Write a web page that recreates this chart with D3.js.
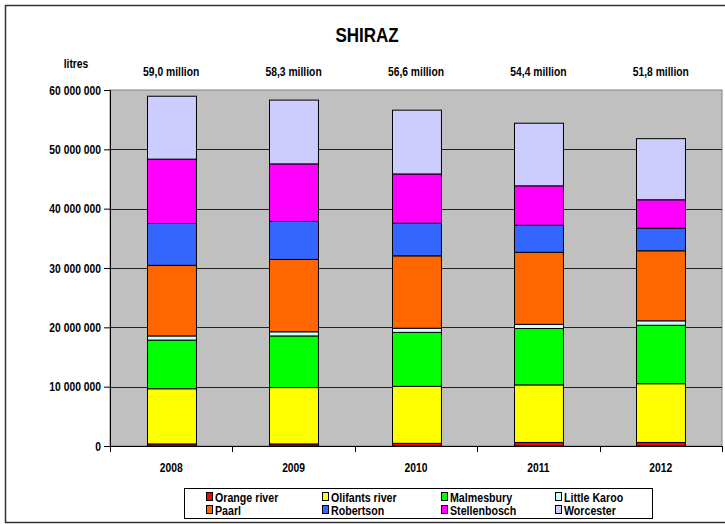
<!DOCTYPE html>
<html>
<head>
<meta charset="utf-8">
<script src="https://cdn.jsdelivr.net/npm/d3@7"></script>
<style>
  body { margin: 0; background: #fff; }
  text { font-family: "Liberation Sans", Arial, sans-serif; font-weight: bold; fill: black; }
</style>
</head>
<body>
<div id="wrapper"></div>
<script>
const years = ["2008", "2009", "2010", "2011", "2012"];
const regions = ["Orange river", "Olifants river", "Malmesbury", "Little Karoo",
                 "Paarl", "Robertson", "Stellenbosch", "Worcester"];
const region_colors = ["#FF0000", "#FFFF00", "#00FF00", "#CCFFFF",
                       "#FF6600", "#3366FF", "#FF00FF", "#CCCCFF"];
// litres, millions
const orange_river   = [0.35, 0.35, 0.45, 0.60, 0.60];
const olifants_river = [9.30, 9.50, 9.60, 9.70, 9.90];
const malmesbury     = [8.20, 8.70, 9.10, 9.50, 9.85];
const little_karoo   = [0.70, 0.70, 0.70, 0.70, 0.75];
const paarl          = [11.90, 12.20, 12.20, 12.15, 11.80];
const robertson      = [7.05, 6.40, 5.50, 4.55, 3.80];
const stellenbosch   = [10.85, 9.70, 8.30, 6.65, 4.80];
const worcester      = [10.60, 10.75, 10.75, 10.55, 10.30];
const total_labels = ["59,0 million", "58,3 million", "56,6 million", "54,4 million", "51,8 million"];
const y_ticks = [0, 10e6, 20e6, 30e6, 40e6, 50e6, 60e6];

const series_values = [orange_river, olifants_river, malmesbury, little_karoo,
                       paarl, robertson, stellenbosch, worcester];

// the original uses a narrow font; squeeze the regular one instead
const squeeze = 0.86;
function narrow(sel, x, y, s = squeeze) {
    sel.attr("x", 0).attr("y", 0)
        .attr("transform", (d, i) => {
            const xx = typeof x === "function" ? x(d, i) : x;
            const yy = typeof y === "function" ? y(d, i) : y;
            return `translate(${xx},${yy}) scale(${s},1)`;
        });
    return sel;
}

function drawChart() {
    const dimensions = {
        width: 725,
        height: 524,
        margin: { top: 90, right: 3, bottom: 78, left: 110 }
    };
    dimensions.bounded_width = 612;
    dimensions.bounded_height = dimensions.height - dimensions.margin.top - dimensions.margin.bottom;

    const wrapper = d3.select("#wrapper")
        .append("svg")
        .attr("width", dimensions.width)
        .attr("height", dimensions.height);

    // outer chart border
    wrapper.append("rect")
        .attr("x", 5.5).attr("y", 5.5)
        .attr("width", 740).attr("height", 517)
        .attr("fill", "white")
        .attr("stroke", "#333").attr("stroke-width", 1.5);

    const bounds = wrapper.append("g")
        .attr("transform", `translate(${dimensions.margin.left},${dimensions.margin.top})`);

    // build table for stacking
    const table = years.map((y, i) => {
        const row = { year: y };
        regions.forEach((r, j) => row[r] = series_values[j][i] * 1e6);
        return row;
    });
    const stacked = d3.stack().keys(regions)(table);

    const x_scale = d3.scaleBand()
        .domain(years)
        .range([0, dimensions.bounded_width])
        .paddingInner(0.6)
        .paddingOuter(0.3);

    const y_scale = d3.scaleLinear()
        .domain([0, 60e6])
        .range([dimensions.bounded_height, 0]);

    const color_scale = d3.scaleOrdinal().domain(regions).range(region_colors);
    const x_mid = d => x_scale(d) + x_scale.bandwidth() / 2;

    // plot area
    bounds.append("rect")
        .attr("width", dimensions.bounded_width)
        .attr("height", dimensions.bounded_height)
        .attr("fill", "#C0C0C0")
        .attr("stroke", "#808080");

    // gridlines
    bounds.append("g")
        .selectAll("line")
        .data(y_ticks.filter(d => d > 0 && d < 60e6))
        .join("line")
        .attr("x1", 0).attr("x2", dimensions.bounded_width)
        .attr("y1", d => Math.round(y_scale(d)) + 0.5)
        .attr("y2", d => Math.round(y_scale(d)) + 0.5)
        .attr("stroke", "#222");

    // bars
    bounds.append("g")
        .selectAll("g")
        .data(stacked)
        .join("g")
        .attr("fill", d => color_scale(d.key))
        .selectAll("rect")
        .data(d => d)
        .join("rect")
        .attr("x", d => Math.round(x_scale(d.data.year)) + 0.5)
        .attr("y", d => y_scale(d[1]))
        .attr("width", x_scale.bandwidth())
        .attr("height", d => y_scale(d[0]) - y_scale(d[1]))
        .attr("stroke", "black")
        .attr("stroke-width", 1);

    // y axis
    const y_axis_gen = d3.axisLeft(y_scale)
        .tickValues(y_ticks)
        .tickSize(6)
        .tickFormat(d => d3.format(",")(d).replace(/,/g, " "));
    const y_axis = bounds.append("g").call(y_axis_gen);
    y_axis.select(".domain").attr("stroke", "black");
    y_axis.selectAll(".tick line").attr("stroke", "black");
    narrow(y_axis.selectAll(".tick text"), -9, 4)
        .attr("dy", null)
        .attr("font-size", 12)
        .style("font-family", null)
        .style("font-weight", "bold");

    // x axis with ticks between categories
    const x_axis = bounds.append("g")
        .attr("transform", `translate(0,${dimensions.bounded_height})`);
    x_axis.append("line")
        .attr("x1", 0).attr("x2", dimensions.bounded_width)
        .attr("y1", 0.5).attr("y2", 0.5)
        .attr("stroke", "black");
    const boundaries = d3.range(years.length + 1).map(i => i * x_scale.step());
    x_axis.selectAll(".tick-mark")
        .data(boundaries)
        .join("line")
        .attr("class", "tick-mark")
        .attr("x1", d => Math.round(d) + 0.5).attr("x2", d => Math.round(d) + 0.5)
        .attr("y1", 0).attr("y2", 6)
        .attr("stroke", "black");
    narrow(x_axis.selectAll(".year")
        .data(years)
        .join("text")
        .attr("class", "year")
        .attr("text-anchor", "middle")
        .attr("font-size", 12)
        .text(d => d), d => x_mid(d), 26);

    // totals above bars
    narrow(bounds.selectAll(".total")
        .data(total_labels)
        .join("text")
        .attr("class", "total")
        .attr("text-anchor", "middle")
        .attr("font-size", 12)
        .text(d => d), (d, i) => x_mid(years[i]), -14);

    // title and unit
    narrow(wrapper.append("text")
        .attr("text-anchor", "middle")
        .attr("font-size", 20)
        .text("SHIRAZ"), 367, 42, 0.85);
    narrow(wrapper.append("text")
        .attr("text-anchor", "middle")
        .attr("font-size", 12)
        .text("litres"), 76, 68);

    // legend
    const legend = wrapper.append("g");
    legend.append("rect")
        .attr("x", 184.5).attr("y", 488.5)
        .attr("width", 468).attr("height", 30)
        .attr("fill", "white")
        .attr("stroke", "black");
    const col_x = [206, 322, 441, 555];
    const row_y = [492, 505];
    const items = legend.selectAll(".item")
        .data(regions)
        .join("g")
        .attr("class", "item")
        .attr("transform", (d, i) => `translate(${col_x[i % 4]},${row_y[Math.floor(i / 4)]})`);
    items.append("rect")
        .attr("x", 0.5).attr("y", 0.5)
        .attr("width", 6).attr("height", 8)
        .attr("fill", d => color_scale(d))
        .attr("stroke", "black");
    narrow(items.append("text")
        .attr("font-size", 13)
        .text(d => d), 9, 10, 0.82);
}

drawChart();
</script>
</body>
</html>
